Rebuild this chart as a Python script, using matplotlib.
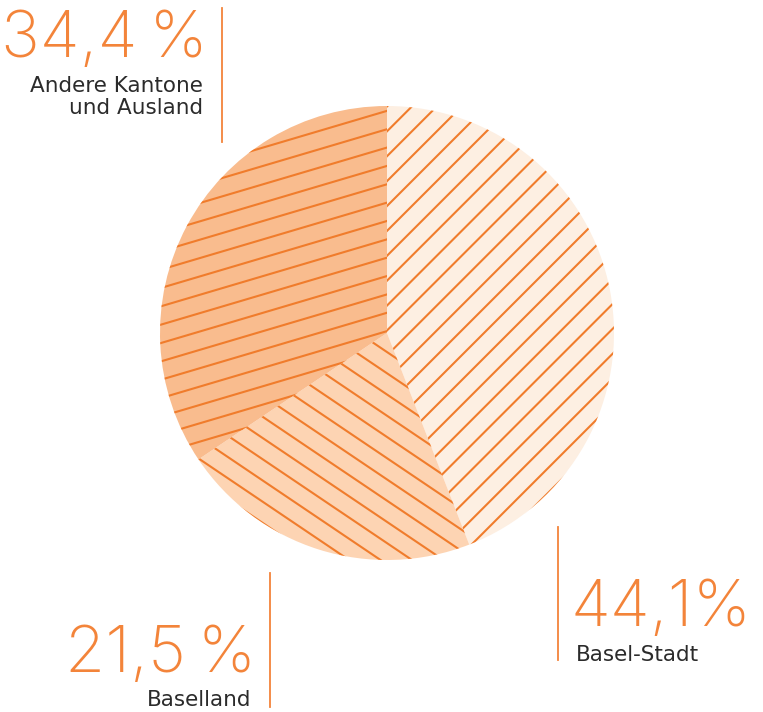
import numpy as np
import matplotlib.pyplot as plt
from matplotlib.collections import LineCollection

# Herkunft der Studierenden (Anteile in Prozent)
labels = ["Basel-Stadt", "Baselland", "Andere Kantone\nund Ausland"]
values = [44.1, 21.5, 34.4]
value_texts = ["44,1%", "21,5\u2009%", "34,4\u2009%"]

fills = ["#fdefe2", "#fdd4b3", "#f9bc8e"]
hatch_angles = [45, -34, 16.5]  # degrees, per slice
ORANGE = "#f3843a"
HATCH = "#f07c2c"
GREY = "#2b2b2b"

W, H = 763, 712
fig = plt.figure(figsize=(W / 100, H / 100), dpi=100)
ax = fig.add_axes([0, 0, 1, 1])

cx, cy, r = 387, H - 333, 227
wedges, _ = ax.pie(values, startangle=90, counterclock=False,
                   center=(cx, cy), radius=r, colors=fills,
                   wedgeprops={"linewidth": 0})

# hatch lines, clipped to each wedge
spacing = 17.6
for w, ang in zip(wedges, hatch_angles):
    a = np.deg2rad(ang)
    d = np.array([np.cos(a), np.sin(a)])
    n = np.array([-np.sin(a), np.cos(a)])
    segs = []
    for k in np.arange(-r - spacing, r + spacing, spacing):
        p = np.array([cx, cy]) + n * k
        segs.append([p - d * (r + 20), p + d * (r + 20)])
    lc = LineCollection(segs, colors=HATCH, linewidths=1.5)
    ax.add_collection(lc)
    lc.set_clip_path(w)

ax.set_xlim(0, W)
ax.set_ylim(0, H)
ax.set_aspect("auto")
ax.axis("off")

big = dict(fontsize=47, color=ORANGE, family=["Inter", "DejaVu Sans"],
           fontweight="light")
small = dict(fontsize=15.5, color=GREY, family=["DejaVu Sans"],
             linespacing=1.1)

def y(v):
    return H - v

# Andere Kantone und Ausland (oben links)
ax.text(208, y(57), value_texts[2], ha="right", va="baseline", **big)
ax.text(203, y(114), labels[2], ha="right", va="baseline", **small)
ax.plot([222, 222], [y(8), y(142)], color=ORANGE, lw=1.3)

# Basel-Stadt (unten rechts)
ax.text(571, y(626), value_texts[0], ha="left", va="baseline", **big)
ax.text(576, y(661), labels[0], ha="left", va="baseline", **small)
ax.plot([558, 558], [y(527), y(660)], color=ORANGE, lw=1.3)

# Baselland (unten links)
ax.text(256, y(672), value_texts[1], ha="right", va="baseline", **big)
ax.text(251, y(706), labels[1], ha="right", va="baseline", **small)
ax.plot([270, 270], [y(573), y(707)], color=ORANGE, lw=1.3)

fig.savefig("out.png", dpi=100, facecolor="white")
